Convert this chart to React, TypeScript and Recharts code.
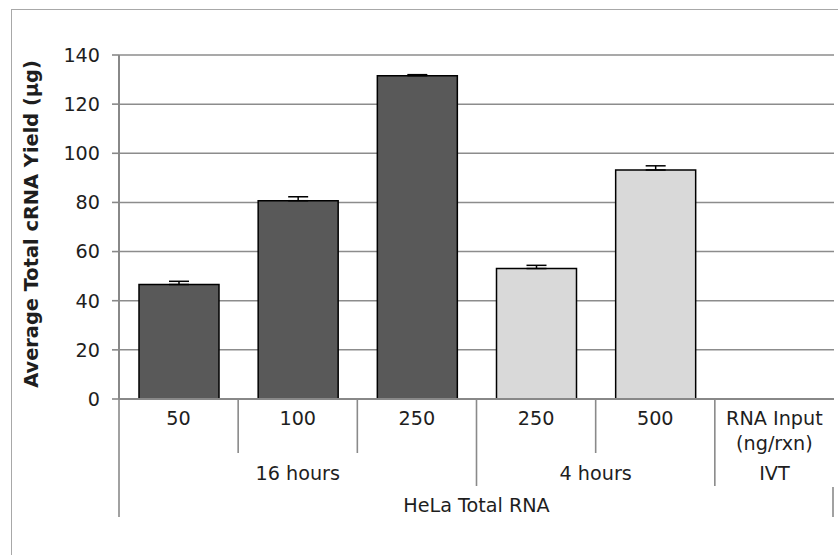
import React from 'react';
import { BarChart, Bar, XAxis, YAxis, CartesianGrid, ErrorBar, Cell, Label } from 'recharts';

// ---- data ----
const inputLabels = ['50', '100', '250', '250', '500', 'RNA Input\n(ng/rxn)'];
const timeGroups = ['16 hours', '16 hours', '16 hours', '4 hours', '4 hours', 'IVT'];
const sampleGroups = ['HeLa Total RNA', 'HeLa Total RNA', 'HeLa Total RNA', 'HeLa Total RNA', 'HeLa Total RNA', 'HeLa Total RNA'];
const yieldValues: (number | null)[] = [46.6, 80.7, 131.6, 53.1, 93.2, null];
const yieldErrors: (number | null)[] = [1.3, 1.6, 0.4, 1.3, 1.7, null];
const yTicks = [0, 20, 40, 60, 80, 100, 120, 140];
const yLabel = 'Average Total cRNA Yield (µg)';

// ---- styles ----
const FONT = '"DejaVu Sans", Verdana, sans-serif';
const FONT_SIZE = 19.2;
const TEXT_COLOR = '#1e1e1e';
const groupFill: Record<string, string> = { '16 hours': '#595959', '4 hours': '#d9d9d9', IVT: '#d9d9d9' };

const W = 838;
const H = 555;
const MARGIN = { top: 55, right: 4, left: 59, bottom: 26 };
const Y_AXIS_W = 60;
const X_AXIS_H = 130;
const PLOT_W = W - MARGIN.left - Y_AXIS_W - MARGIN.right;
const SLOT = PLOT_W / inputLabels.length;

const data = inputLabels.map((lab, i) => ({
  id: i,
  input: lab,
  value: yieldValues[i],
  err: yieldErrors[i] == null ? null : [0, yieldErrors[i] as number],
}));

function spanFrom(arr: string[], i: number) {
  let n = 1;
  while (i + n < arr.length && arr[i + n] === arr[i]) n++;
  return n;
}

function MultiTick(props: any) {
  const { x, y, index } = props;
  const i = index as number;
  const half = SLOT / 2;
  const left = x - half;
  const lines = inputLabels[i].split('\n');
  const stroke = '#8a8a8a';
  let divEnd = y + 54;
  if (i === 0) divEnd = y + 118;
  else if (timeGroups[i] !== timeGroups[i - 1]) divEnd = y + 87;
  const els: React.ReactNode[] = [];
  els.push(<line key="d" x1={left} x2={left} y1={y} y2={divEnd} stroke={stroke} strokeWidth={1.6} />);
  if (i === inputLabels.length - 1) {
    els.push(<line key="r" x1={x + half - 1} x2={x + half - 1} y1={y + 88} y2={y + 118} stroke={stroke} strokeWidth={1.6} />);
  }
  lines.forEach((ln, k) => {
    els.push(
      <text key={'l' + k} x={x} y={y + 19 + k * 25} textAnchor="middle" dominantBaseline="central"
        fontFamily={FONT} fontSize={FONT_SIZE} fill={TEXT_COLOR}>{ln}</text>
    );
  });
  if (i === 0 || timeGroups[i] !== timeGroups[i - 1]) {
    const s = spanFrom(timeGroups, i);
    els.push(
      <text key="g2" x={left + (s * SLOT) / 2} y={y + 74} textAnchor="middle" dominantBaseline="central"
        fontFamily={FONT} fontSize={FONT_SIZE} fill={TEXT_COLOR}>{timeGroups[i]}</text>
    );
  }
  if (i === 0 || sampleGroups[i] !== sampleGroups[i - 1]) {
    const s = spanFrom(sampleGroups, i);
    els.push(
      <text key="g3" x={left + (s * SLOT) / 2} y={y + 106} textAnchor="middle" dominantBaseline="central"
        fontFamily={FONT} fontSize={FONT_SIZE} fill={TEXT_COLOR}>{sampleGroups[i]}</text>
    );
  }
  return <g>{els}</g>;
}

function YTitle(props: any) {
  const vb = props.viewBox || { x: MARGIN.left, y: MARGIN.top, width: Y_AXIS_W, height: 344 };
  const cx = vb.x - 28;
  const cy = vb.y + vb.height / 2 - 3;
  return (
    <text x={cx} y={cy} transform={`rotate(-90 ${cx} ${cy})`} textAnchor="middle" dominantBaseline="central"
      fontFamily={FONT} fontSize={19.4} fontWeight="bold" fill={TEXT_COLOR}>{yLabel}</text>
  );
}

export default function App() {
  return (
    <div style={{ position: 'absolute', left: 0, top: 0, width: W, height: H, overflow: 'hidden', background: '#fff' }}>
      <div style={{ position: 'absolute', left: 11, top: 9, width: 1000, height: 1000, border: '1.5px solid #a8a8a8' }} />
      <div style={{ position: 'absolute', left: 0, top: 0 }}>
        <BarChart width={W} height={H} data={data} margin={MARGIN}>
          <CartesianGrid vertical={false} stroke="#8c8c8c" strokeWidth={1.5} />
          <XAxis dataKey="id" height={X_AXIS_H} tickLine={false} tickSize={0} tickMargin={0}
            axisLine={{ stroke: '#888', strokeWidth: 2 }} tick={<MultiTick />} interval={0} />
          <YAxis width={Y_AXIS_W} domain={[0, 140]} ticks={yTicks} interval={0} tickSize={7} tickMargin={12}
            axisLine={{ stroke: '#888', strokeWidth: 2 }} tickLine={{ stroke: '#888', strokeWidth: 1.6 }}
            tick={{ fontFamily: FONT, fontSize: FONT_SIZE, fill: TEXT_COLOR }}>
            <Label content={<YTitle />} />
          </YAxis>
          <Bar dataKey="value" barSize={80} stroke="#000" strokeWidth={1.5} isAnimationActive={false}>
            {data.map((d, i) => (
              <Cell key={i} fill={groupFill[timeGroups[i]]} />
            ))}
            <ErrorBar dataKey="err" width={10} stroke="#000" strokeWidth={1.5} direction="y" />
          </Bar>
        </BarChart>
      </div>
    </div>
  );
}
